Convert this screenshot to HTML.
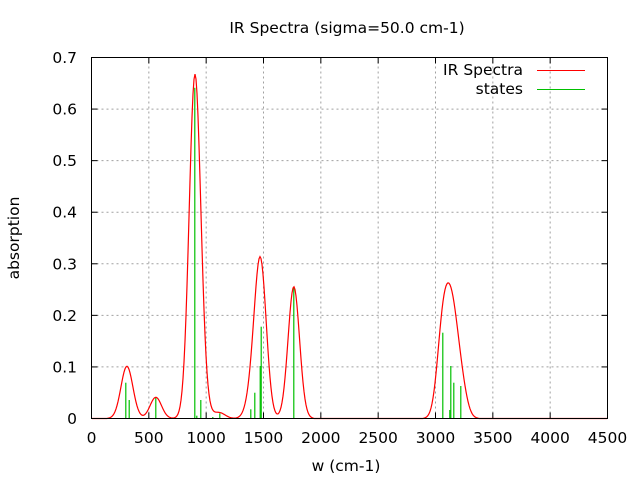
<!DOCTYPE html>
<html><head><meta charset="utf-8"><style>
body{margin:0;background:#fff}
svg{display:block}
text{font-family:"DejaVu Sans","Liberation Sans",sans-serif;font-size:15.5px;fill:#000}
</style></head><body>
<svg id="s" width="640" height="480" xmlns="http://www.w3.org/2000/svg">
<g id="grid" stroke="#a0a0a0" stroke-width="1" stroke-dasharray="2,3"></g>
<g id="ticks" stroke="#000" stroke-width="1"></g>
<g id="labels"></g>
<g id="sticks" stroke="#00c000" stroke-width="1.2"></g>
<path id="curve" fill="none" stroke="#ff0000" stroke-width="1.2"/>
<rect x="91.5" y="57.5" width="516" height="361" fill="none" stroke="#000" stroke-width="1"/>
<text x="347" y="33" text-anchor="middle">IR Spectra (sigma=50.0 cm-1)</text>
<text x="346" y="471" text-anchor="middle">w (cm-1)</text>
<text transform="translate(19,238) rotate(-90)" text-anchor="middle">absorption</text>
<text x="523" y="75" text-anchor="end">IR Spectra</text>
<line x1="537" y1="70.5" x2="585" y2="70.5" stroke="#ff0000" stroke-width="1"/>
<text x="523" y="94" text-anchor="end">states</text>
<line x1="537" y1="89.5" x2="585" y2="89.5" stroke="#00c000" stroke-width="1"/>
</svg>
<script>
var NS="http://www.w3.org/2000/svg";
function el(p,t,a,txt){var e=document.createElementNS(NS,t);for(var k in a)e.setAttribute(k,a[k]);if(txt!=null)e.textContent=txt;document.getElementById(p).appendChild(e);}
var x0=91.5,x1=607.5,y0=418.5,y1=57.5;
for(var i=0;i<=9;i++){var x=x0+(x1-x0)*i/9;
 if(i>0&&i<9)el("grid","line",{x1:x,y1:y0,x2:x,y2:y1});
 el("ticks","line",{x1:x,y1:y0,x2:x,y2:y0-6});el("ticks","line",{x1:x,y1:y1,x2:x,y2:y1+6});
 el("labels","text",{x:x,y:443,"text-anchor":"middle"},String(i*500));}
var yl=["0","0.1","0.2","0.3","0.4","0.5","0.6","0.7"];
for(var j=0;j<=7;j++){var y=y0+(y1-y0)*j/7;
 if(j>0&&j<7)el("grid","line",{x1:x0,y1:y,x2:x1,y2:y});
 el("ticks","line",{x1:x0,y1:y,x2:x0+6,y2:y});el("ticks","line",{x1:x1,y1:y,x2:x1-6,y2:y});
 el("labels","text",{x:77,y:y+5.5,"text-anchor":"end"},yl[j]);}
var st=[[125.3,382.7],[128.7,400],[155.3,397.3],[194.3,87.7],[196.3,415.7],[200.3,400],[212.3,417],[219.3,413.3],[250.3,409.3],[254.3,392.7],[259.7,366],[260.7,326.7],[293.3,286.7],[442.3,332.7],[449.3,410],[450.3,366],[453.3,382.7],[460.3,386]];
var base=418.5,sg=5.73;
st.forEach(function(s){el("sticks","line",{x1:s[0]+0.5,y1:base,x2:s[0]+0.5,y2:s[1]});});
var d="";
for(var x=92;x<=607;x+=1){var v=0;st.forEach(function(s){var h=base-s[1];v+=h*Math.exp(-Math.pow(x-s[0]-0.5,2)/(2*sg*sg));});
 if(v<0.3)v=0;d+=(d?"L":"M")+x+","+(base-v).toFixed(2);}
document.getElementById("curve").setAttribute("d",d);
</script>
</body></html>
